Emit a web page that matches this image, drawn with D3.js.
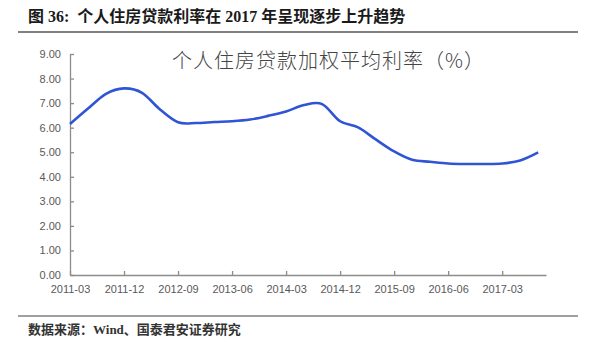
<!DOCTYPE html>
<html lang="zh">
<head>
  <meta charset="UTF-8">
  <title>个人住房贷款利率</title>
  <script src="https://d3js.org/d3.v7.min.js"></script>
  <style>
    body { margin: 0; background: #fff; }
    .axis text { font-family: "Liberation Sans", Arial, sans-serif; font-size: 11px; fill: #595959; }
    .axis path, .axis line { stroke: #8c8c8c; stroke-width: 1.3; }
  </style>
</head>
<body>
  <div id="chart"></div>

  <script>
    // quarterly weighted average rate, 2011-03 .. 2017-09
    const months = ["2011-03","2011-06","2011-09","2011-12","2012-03","2012-06","2012-09","2012-12",
                    "2013-03","2013-06","2013-09","2013-12","2014-03","2014-06","2014-09","2014-12",
                    "2015-03","2015-06","2015-09","2015-12","2016-03","2016-06","2016-09","2016-12",
                    "2017-03","2017-06","2017-09"];
    const rates = [6.15, 6.78, 7.38, 7.60, 7.42, 6.74, 6.22, 6.19,
                   6.23, 6.26, 6.33, 6.48, 6.66, 6.92, 6.96, 6.26,
                   6.01, 5.51, 5.03, 4.69, 4.61, 4.54, 4.52, 4.52,
                   4.54, 4.66, 4.99];
    const tickLabels = ["2011-03","2011-12","2012-09","2013-06","2014-03","2014-12","2015-09","2016-06","2017-03"];
    const yTicks = [0, 1, 2, 3, 4, 5, 6, 7, 8, 9];

    const W = 600, H = 342;
    const margin = { top: 54, right: 54, bottom: 67, left: 70 };

    const svg = d3.select("#chart").append("svg")
      .attr("width", W).attr("height", H);

    // month index from 2011-03
    const idx = s => {
      const [y, m] = s.split("-").map(Number);
      return (y - 2011) * 12 + (m - 3);
    };

    const x = d3.scaleLinear()
      .domain([0, 79.3])
      .range([margin.left, W - margin.right]);

    const y = d3.scaleLinear()
      .domain([0, 9])
      .range([H - margin.bottom, margin.top]);

    // header
    svg.append("text")
      .attr("x", 28).attr("y", 22)
      .attr("font-family", "'Liberation Serif', 'Noto Sans CJK SC', serif")
      .attr("font-weight", "bold")
      .attr("font-size", 16)
      .attr("fill", "#1a1a1a")
      .attr("xml:space", "preserve")
      .text("图 36:  个人住房贷款利率在 2017 年呈现逐步上升趋势");

    svg.append("line")
      .attr("x1", 18).attr("x2", 578).attr("y1", 32).attr("y2", 32)
      .attr("stroke", "#808080").attr("stroke-width", 2);

    // axes
    svg.append("g")
      .attr("class", "axis")
      .attr("transform", `translate(${margin.left},0)`)
      .call(d3.axisLeft(y).tickValues(yTicks).tickFormat(d3.format(".2f")).tickSizeInner(-4).tickSizeOuter(0).tickPadding(9));

    svg.append("g")
      .attr("class", "axis")
      .attr("transform", `translate(0,${H - margin.bottom})`)
      .call(d3.axisBottom(x).tickValues(tickLabels.map(idx)).tickFormat((d, i) => tickLabels[i]).tickSizeInner(-4).tickSizeOuter(0).tickPadding(10));

    // inner chart title
    svg.append("text")
      .attr("x", 172).attr("y", 68)
      .attr("font-family", "'Noto Sans CJK SC', sans-serif")
      .attr("font-weight", 300)
      .attr("font-size", 20)
      .attr("letter-spacing", 1)
      .attr("fill", "#444")
      .attr("textLength", 313)
      .text("个人住房贷款加权平均利率（%）");

    // line
    const line = d3.line()
      .x((d, i) => x(idx(months[i])))
      .y(d => y(d))
      .curve(d3.curveCardinal.tension(0));

    svg.append("path")
      .datum(rates)
      .attr("fill", "none")
      .attr("stroke", "#2f55d4")
      .attr("stroke-width", 2.6)
      .attr("d", line);

    // footer
    svg.append("line")
      .attr("x1", 18).attr("x2", 578).attr("y1", 316).attr("y2", 316)
      .attr("stroke", "#808080").attr("stroke-width", 1.5);

    svg.append("text")
      .attr("x", 28).attr("y", 334)
      .attr("font-family", "'Liberation Serif', 'Noto Sans CJK SC', serif")
      .attr("font-weight", "bold")
      .attr("font-size", 13)
      .attr("fill", "#333")
      .text("数据来源：Wind、国泰君安证券研究");
  </script>
</body>
</html>
